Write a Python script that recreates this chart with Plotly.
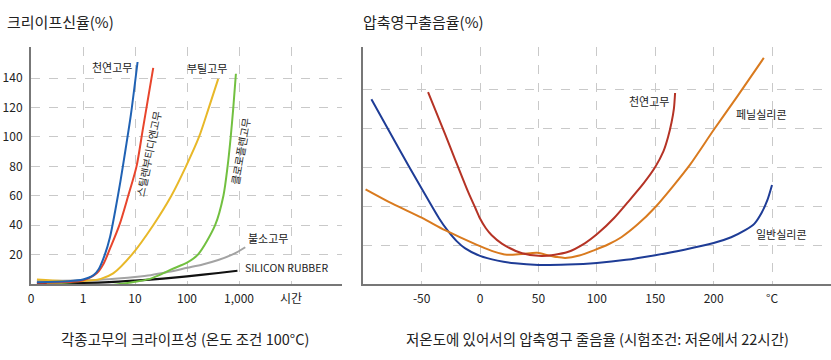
import plotly.graph_objects as go

W, H = 831, 360
FONT = "Noto Sans CJK KR, Noto Sans, sans-serif"

# ---------------- Left chart: creep (%), x = hours (log) ----------------
nr_t = [0.13, 0.5, 1, 1.6, 2.0, 2.63, 3.31, 4.17, 5.25, 6.61, 8.32, 11.2]
nr_v = [1.2, 1.8, 3, 6, 10, 20, 32, 50, 70, 92, 115, 151]

sbr_t = [0.13, 0.5, 1, 1.86, 2.5, 3.3, 5.0, 7.4, 10.7, 14.1, 17.4, 22.4]
sbr_v = [0.8, 1.3, 2.5, 7.5, 14, 24, 40, 60, 80, 105, 124, 147]

iir_t = [0.13, 0.4, 1, 2.2, 3.8, 8.7, 22.4, 50, 95.5, 170, 263, 398]
iir_v = [3, 2, 2, 3.5, 7.2, 20, 40, 60, 80, 100, 120, 139.5]

cr_t = [0.2, 1, 3.2, 10, 19.5, 31.6, 50, 100, 162, 347, 501, 603, 692, 776, 871]
cr_v = [0.5, -0.8, -0.8, 1.5, 3.5, 6.5, 10, 14.5, 20, 40, 60, 80, 100, 120, 143]

fkm_t = [0.13, 1, 3.16, 10, 20, 44.7, 100, 200, 398, 794, 1318]
fkm_v = [2, 2.5, 3.3, 4.8, 6, 8.3, 11, 13.3, 16.3, 20.5, 25]

si_t = [0.13, 1, 3.2, 10, 19.5, 63, 100, 400, 933]
si_v = [0.5, 0.8, 1.3, 2.3, 3, 4.5, 5.2, 7.5, 9]

left_xticks = [0.1, 1, 10, 100, 1000, 10000]
left_xtext = ["0", "1", "10", "100", "1,000", "시간"]
left_yticks = [20, 40, 60, 80, 100, 120, 140]

# ---------------- Right chart: compression set, x = temperature ----------------
nr2_T = [-44.5, -30, -21.4, -10, -4, 0, 5, 10, 19, 36, 53, 75, 90, 101, 115, 126, 140, 150, 157, 161, 164, 166, 167]
nr2_v = [49.2, 38.5, 32, 23.5, 19.5, 16.8, 14.3, 12.5, 10.3, 7.9, 7.2, 8.2, 10.5, 13, 17, 20.8, 25.8, 30, 34, 37.7, 41.5, 45, 49]

phe_T = [-98, -75, -50, -30, -15, 0, 12, 23, 36, 49, 58, 66, 73, 85, 98, 110, 121, 135, 150, 165, 180, 200, 220, 243]
phe_v = [24.3, 20.6, 17, 13.8, 11.7, 9.7, 8.3, 7.5, 7.7, 8, 7.4, 6.9, 6.7, 7.3, 8.7, 10.2, 12, 15.3, 19.7, 25, 30.7, 39.5, 48, 58]

gen_T = [-93, -70, -50, -35, -28, -20, -13, 0, 15, 30, 50, 75, 100, 125, 150, 175, 200, 215, 227, 235, 241, 246, 250]
gen_v = [47.4, 35, 24.5, 16.8, 13.8, 11, 9.2, 7.2, 6, 5.3, 4.9, 5, 5.4, 6.2, 7.4, 8.8, 10.5, 12, 13.8, 15.5, 18.2, 21.5, 25.4]

right_xticks = [-50, 0, 50, 100, 150, 200, 250]
right_xtext = ["-50", "0", "50", "100", "150", "200", "°C"]
right_yticks = [0, 10, 20, 30, 40, 50]

fig = go.Figure()

def add(x, y, color, xa, ya, width=2.0):
    fig.add_trace(go.Scatter(x=x, y=y, mode="lines", xaxis=xa, yaxis=ya,
                             line=dict(color=color, width=width, shape="spline", smoothing=0.8),
                             hoverinfo="skip", showlegend=False))

add(si_t, si_v, "#111111", "x", "y", 2.2)
add(fkm_t, fkm_v, "#a3a3a3", "x", "y")
add(cr_t, cr_v, "#72c040", "x", "y")
add(iir_t, iir_v, "#e8b828", "x", "y")
add(sbr_t, sbr_v, "#e8452c", "x", "y")
add(nr_t, nr_v, "#2062b4", "x", "y")

add(gen_T, gen_v, "#1e3c96", "x2", "y2")
add(phe_T, phe_v, "#d97a1e", "x2", "y2")
add(nr2_T, nr2_v, "#b53325", "x2", "y2")

def px(x, y):
    return x / W, 1 - y / H

ydom = [1 - 284 / H, 1 - 47 / H]
grid = dict(showgrid=True, gridcolor="#c9c9c9", gridwidth=1, griddash="dash",
            zeroline=False, showline=True, linecolor="#777777", linewidth=2,
            ticks="", automargin=False,
            tickfont=dict(family=FONT, size=12, color="#222222"))

fig.update_layout(
    width=W, height=H, margin=dict(l=0, r=0, t=0, b=0),
    paper_bgcolor="white", plot_bgcolor="white",
    xaxis=dict(domain=[31 / W, 342 / W], type="log", range=[-1.0, 4.98],
               tickvals=left_xticks, ticktext=left_xtext, anchor="y",
               ticklabelstandoff=3, **grid),
    yaxis=dict(domain=ydom, range=[0, 161.2], tickvals=left_yticks, anchor="x",
               ticklabelstandoff=4, **grid),
    xaxis2=dict(domain=[363 / W, 1.0], range=[-100.2, 300.5],
                tickvals=right_xticks, ticktext=right_xtext, anchor="y2",
                ticklabelstandoff=3, **grid),
    yaxis2=dict(domain=ydom, range=[0, 60.8], tickvals=right_yticks, anchor="x2",
                showticklabels=False, **grid),
)

anns = []
def label(text, x, y, size=11, angle=0, xanchor="center", color="#222222"):
    px_, py_ = px(x, y)
    anns.append(dict(text=text, x=px_, y=py_, xref="paper", yref="paper",
                     xanchor=xanchor, yanchor="middle", showarrow=False,
                     textangle=angle, font=dict(family=FONT, size=size, color=color)))

label("크리이프신율(%)", 5, 21, size=15, xanchor="left")
label("압축영구출음율(%)", 361, 21, size=15, xanchor="left")
label("각종고무의 크라이프성 (온도 조건 100°C)", 185, 338, size=14.5)
label("저온도에 있어서의 압축영구 줄음율 (시험조건: 저온에서 22시간)", 597, 338, size=14.5)

label("천연고무", 112, 67)
label("부틸고무", 207, 68)
label("불소고무", 268, 238)
label("SILICON RUBBER", 286, 267, size=10.5)
label("스틸렌부티디엔고무", 148, 154, angle=-78.5, size=10.5)
label("클로로플렌고무", 240, 151, angle=-80, size=10.5)

label("천연고무", 649, 101)
label("페닐실리콘", 761, 114)
label("일반실리콘", 781, 234)

fig.update_layout(annotations=anns)
fig.write_html("out.html", config={"displayModeBar": False},
               post_script="document.body.style.margin='0';document.body.style.padding='0';")
